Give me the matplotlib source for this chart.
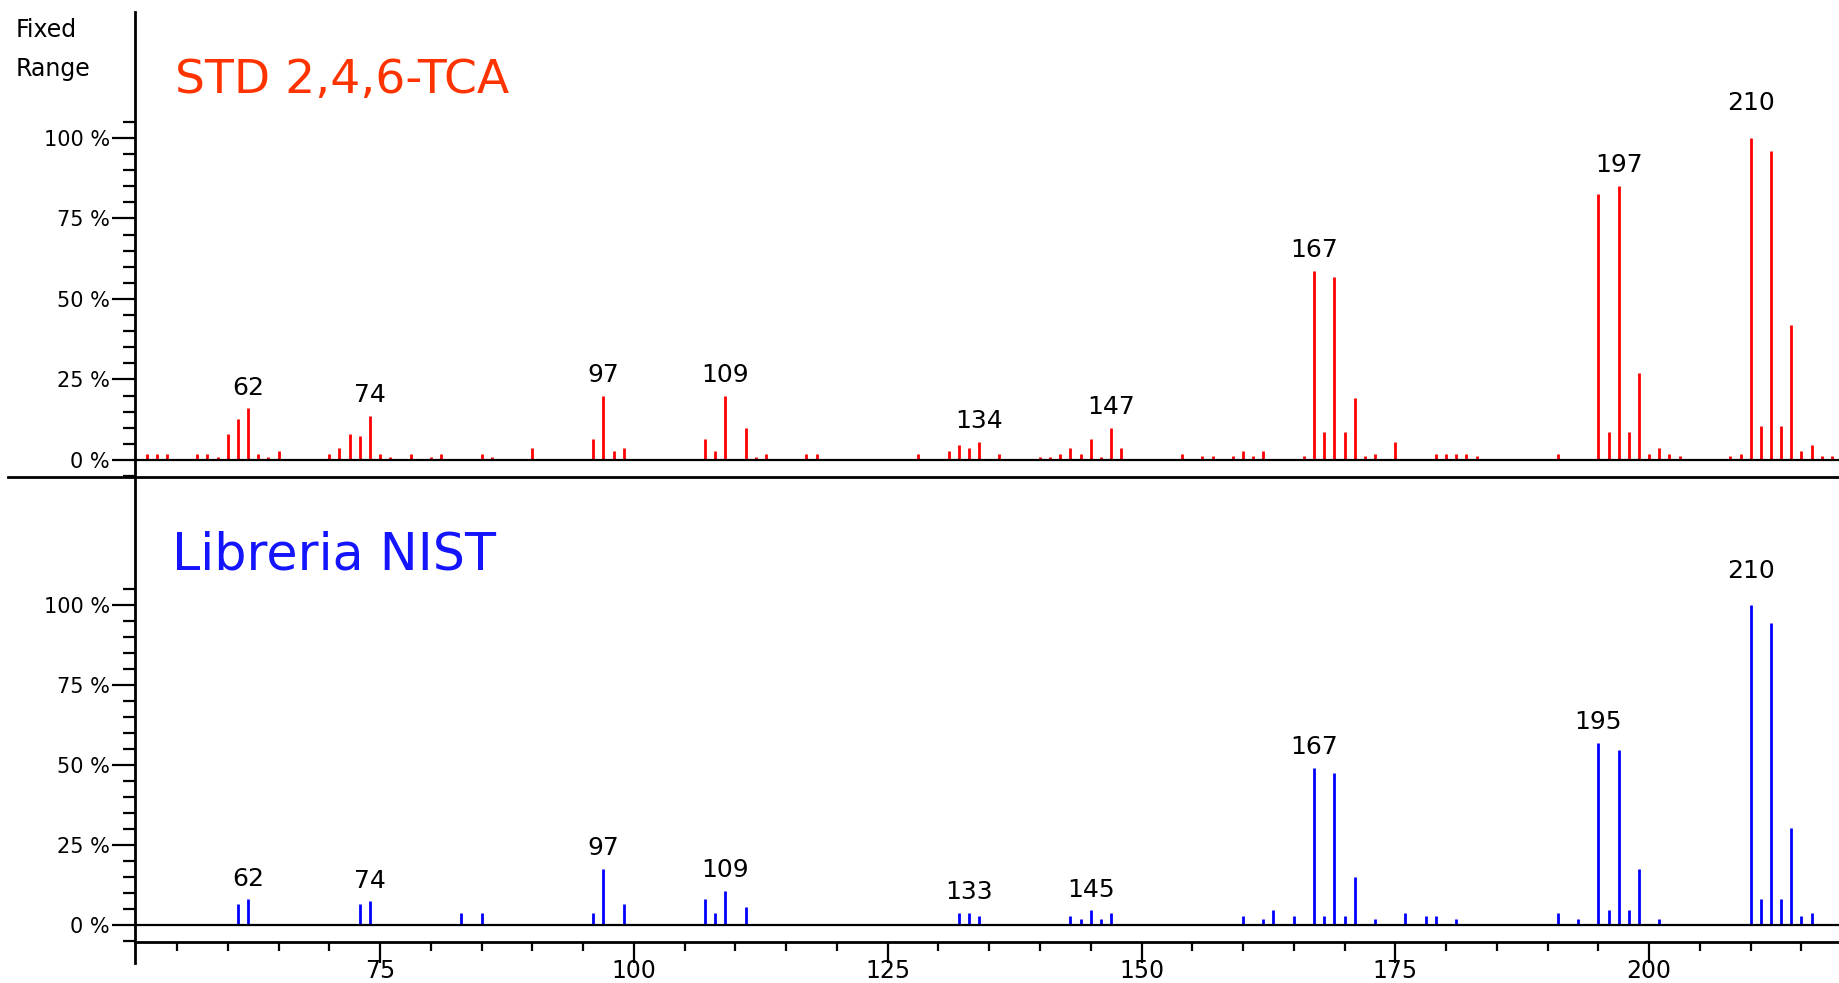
"""Mass spectrum comparison: STD 2,4,6-TCA vs NIST library entry."""
import matplotlib
matplotlib.use("Agg")
import matplotlib.pyplot as plt
from matplotlib.lines import Line2D
from matplotlib.ticker import FixedLocator, MultipleLocator

# measured spectrum (m/z, relative intensity %)
STD_MZ = [52, 53, 54, 57, 58, 59, 60, 61, 62, 63, 64, 65, 70, 71, 72, 73, 74, 75, 76,
          78, 80, 81, 83, 85, 86, 89, 90, 96, 97, 98, 99, 107, 108, 109, 111, 112,
          113, 117, 118, 120, 123, 128, 131, 132, 133, 134, 135, 136, 140, 141, 142,
          143, 144, 145, 146, 147, 148, 154, 156, 157, 159, 160, 161, 162, 166, 167,
          168, 169, 170, 171, 172, 173, 175, 179, 180, 181, 182, 183, 184, 191, 193,
          194, 195, 196, 197, 198, 199, 200, 201, 202, 203, 208, 209, 210, 211, 212,
          213, 214, 215, 216, 217, 218]
STD_INT = [1.8, 1.8, 1.8, 1.8, 1.8, 0.8, 8.0, 12.6, 16.0, 1.8, 0.8, 2.7, 1.8, 3.6, 8.0,
           7.3, 13.6, 1.8, 0.8, 1.8, 0.8, 1.8, 0.3, 1.8, 0.8, 0.3, 3.6, 6.4, 19.8, 2.8,
           3.7, 6.6, 2.9, 19.8, 10.0, 1.0, 2.0, 2.0, 2.0, 0.3, 0.3, 2.0, 2.9, 4.7, 3.8,
           5.7, 0.3, 2.0, 1.0, 1.0, 2.0, 3.8, 2.0, 6.6, 1.0, 10.0, 3.8, 2.0, 1.1, 1.1,
           1.1, 2.9, 1.1, 2.9, 1.1, 58.8, 8.8, 56.9, 8.8, 19.2, 1.1, 2.0, 5.5, 2.0, 2.0,
           2.0, 2.0, 1.1, 0.2, 2.0, 0.2, 0.2, 82.5, 8.8, 85.0, 8.8, 26.9, 2.0, 3.8, 2.0,
           1.1, 1.1, 2.0, 100.0, 10.6, 96.0, 10.6, 42.0, 2.9, 4.7, 1.1, 1.1]
STD_LABELS = [62, 74, 97, 109, 134, 147, 167, 197, 210]

# NIST library spectrum
NIST_MZ = [61, 62, 73, 74, 83, 85, 96, 97, 99, 107, 108, 109, 111, 132, 133, 134, 143,
           144, 145, 146, 147, 160, 162, 163, 165, 167, 168, 169, 170, 171, 173, 176,
           178, 179, 181, 191, 193, 195, 196, 197, 198, 199, 201, 210, 211, 212, 213,
           214, 215, 216]
NIST_INT = [6.5, 8.0, 6.5, 7.4, 3.8, 3.8, 3.8, 17.6, 6.5, 8.0, 3.8, 10.6, 5.5, 3.8, 3.8,
            2.8, 2.8, 1.9, 4.6, 1.9, 3.8, 2.8, 1.9, 4.6, 2.8, 49.1, 2.8, 47.6, 2.8, 15.0,
            1.9, 3.8, 2.8, 2.8, 1.9, 3.8, 1.9, 57.1, 4.6, 54.9, 4.6, 17.6, 1.9, 100.0,
            8.0, 94.5, 8.0, 30.4, 2.8, 3.8]
NIST_LABELS = [62, 74, 97, 109, 133, 145, 167, 195, 210]

Y_TICKS = [0, 25, 50, 75, 100]
Y_TICK_LABELS = ["0 %", "25 %", "50 %", "75 %", "100 %"]
X_TICKS = [75, 100, 125, 150, 175, 200]

W, H = 1840, 983


def fx(px):
    return px / W


def fy(py):
    return 1 - py / H


def draw_spectrum(ax, mz, inten, labels, color):
    ax.vlines(mz, 0, inten, colors=color, linewidth=2.0)
    ax.axhline(0, color="black", linewidth=1.6)
    lookup = dict(zip(mz, inten))
    for m in labels:
        pad = 25 if m == 210 else 15
        ax.annotate(str(m), xy=(m, lookup[m]), xytext=(0, pad),
                    textcoords="offset points", ha="center", va="center",
                    fontsize=18, color="black")
    ax.set_xlim(50.86, 218.8)
    ax.yaxis.set_major_locator(FixedLocator(Y_TICKS))
    ax.set_yticklabels(Y_TICK_LABELS, fontsize=15)
    ax.yaxis.set_minor_locator(FixedLocator(list(range(-5, 110, 5))))
    ax.tick_params(axis="y", which="major", direction="out", length=16.5,
                   width=1.6, pad=1.5)
    ax.tick_params(axis="y", which="minor", direction="out", length=8.5, width=1.6)
    for s in ax.spines.values():
        s.set_visible(False)
    ax.patch.set_alpha(0)


fig = plt.figure(figsize=(W / 100, H / 100), dpi=100)

left = fx(135)
ax_top = fig.add_axes([left, fy(477), 1 - left, (477 - 12) / H])
ax_bot = fig.add_axes([left, fy(942), 1 - left, (942 - 477) / H])

draw_spectrum(ax_top, STD_MZ, STD_INT, STD_LABELS, "#ff0000")
ax_top.set_ylim(-5.28, 139.1)
ax_top.set_xticks([])

draw_spectrum(ax_bot, NIST_MZ, NIST_INT, NIST_LABELS, "#0000ff")
ax_bot.set_ylim(-5.3, 140.2)
ax_bot.spines["bottom"].set_visible(True)
ax_bot.spines["bottom"].set_linewidth(2.0)
ax_bot.xaxis.set_major_locator(FixedLocator(X_TICKS))
ax_bot.xaxis.set_minor_locator(MultipleLocator(5))
ax_bot.tick_params(axis="x", which="major", direction="out", length=15,
                   width=1.6, pad=-3, labelsize=17)
ax_bot.tick_params(axis="x", which="minor", direction="out", length=6.5, width=1.6)

# frame lines: long left axis and the separator between the panels
fig.add_artist(Line2D([fx(135), fx(135)], [fy(12), fy(963)], color="black",
                      linewidth=2.0, transform=fig.transFigure))
fig.add_artist(Line2D([fx(8), 1.0], [fy(477), fy(477)], color="black",
                      linewidth=2.0, transform=fig.transFigure))

fig.text(fx(16), fy(37), "Fixed", fontsize=17, va="baseline", ha="left")
fig.text(fx(16), fy(76), "Range", fontsize=17, va="baseline", ha="left")

fig.text(fx(175), fy(93), "STD 2,4,6-TCA", fontsize=34, color="#ff3300",
         va="baseline", ha="left")
fig.text(fx(172), fy(570), "Libreria NIST", fontsize=36.5, color="#1414ff",
         va="baseline", ha="left")

fig.savefig("out.png", dpi=100)
